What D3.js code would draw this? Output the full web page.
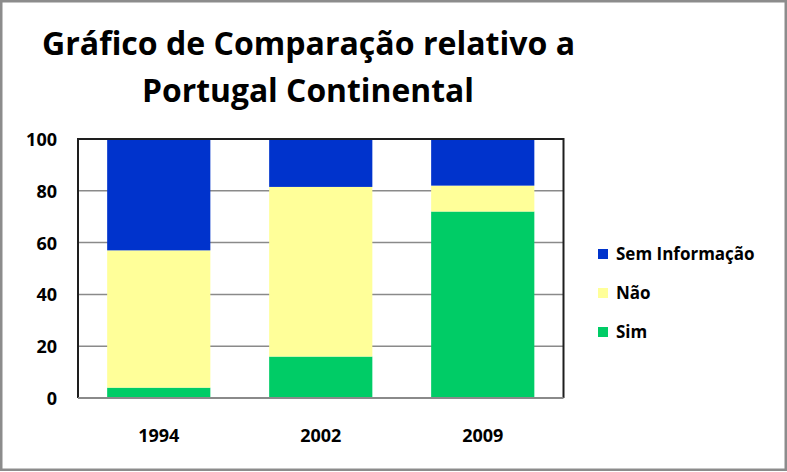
<!DOCTYPE html>
<html>
<head>
<meta charset="utf-8">
<script src="https://cdn.jsdelivr.net/npm/d3@7"></script>
<style>
  html, body { margin: 0; padding: 0; background: #fff; }
  svg { display: block; }
</style>
</head>
<body>
<div id="grafico"></div>
<script>
// Dados
const anos = ["1994", "2002", "2009"];
const sim = [4, 16, 72];
const nao = [53, 65.5, 10];
const semInformacao = [43, 18.5, 18];
const series = ["Sim", "Não", "Sem Informação"];
const valoresEixoY = [0, 20, 40, 60, 80, 100];
const tituloLinhas = ["Gráfico de Comparação relativo a", "Portugal Continental"];

const cores = { "Sim": "#00CC66", "Não": "#FFFF99", "Sem Informação": "#0033CC" };

const largura = 787;
const altura = 472;
const margem = { top: 139, right: 223.5, bottom: 73, left: 78 };
const fonte = "'Open Sans', 'DejaVu Sans', sans-serif";

const dados = anos.map((ano, i) => ({
    ano: ano,
    "Sim": sim[i],
    "Não": nao[i],
    "Sem Informação": semInformacao[i]
}));

const svg = d3.select("#grafico").append("svg")
    .attr("width", largura)
    .attr("height", altura)
    .style("font-family", fonte);

// Moldura exterior
svg.append("rect")
    .attr("x", 1.25)
    .attr("y", 1.25)
    .attr("width", largura - 2.5)
    .attr("height", altura - 3.5)
    .attr("fill", "#fff")
    .attr("stroke", "#8c8c8c")
    .attr("stroke-width", 2.5);

// Escalas
const escalaX = d3.scaleBand()
    .domain(anos)
    .range([margem.left, largura - margem.right])
    .paddingInner(0.363)
    .paddingOuter(0.18);

const escalaY = d3.scaleLinear()
    .domain([0, 100])
    .range([altura - margem.bottom - 1, margem.top]);

// Linhas de grelha
svg.append("g")
    .selectAll("line")
    .data(valoresEixoY.filter(v => v > 0 && v < 100))
    .join("line")
    .attr("x1", margem.left)
    .attr("x2", largura - margem.right)
    .attr("y1", d => escalaY(d))
    .attr("y2", d => escalaY(d))
    .attr("stroke", "#8a8a8a")
    .attr("stroke-width", 1.5);

// Barras empilhadas
const empilhado = d3.stack().keys(series)(dados);

svg.append("g")
    .selectAll("g")
    .data(empilhado)
    .join("g")
    .attr("fill", d => cores[d.key])
    .selectAll("rect")
    .data(d => d)
    .join("rect")
    .attr("x", d => escalaX(d.data.ano))
    .attr("y", d => escalaY(d[1]))
    .attr("width", escalaX.bandwidth())
    .attr("height", d => escalaY(d[0]) - escalaY(d[1]));

// Contorno da área do gráfico
const x0 = margem.left, x1 = largura - margem.right;
const y0 = escalaY(0), y1 = escalaY(100);
svg.append("path")
    .attr("d", `M${x0},${y0} L${x0},${y1} L${x1},${y1} L${x1},${y0}`)
    .attr("fill", "none")
    .attr("stroke", "#1e1e1e")
    .attr("stroke-width", 2);

// Eixo X (linha inferior)
svg.append("line")
    .attr("x1", x0)
    .attr("x2", x1)
    .attr("y1", y0)
    .attr("y2", y0)
    .attr("stroke", "#8a8a8a")
    .attr("stroke-width", 2);

// Rótulos do eixo Y
svg.append("g")
    .selectAll("text")
    .data(valoresEixoY)
    .join("text")
    .attr("x", 57)
    .attr("y", d => escalaY(d) + 7)
    .attr("text-anchor", "end")
    .style("font-size", "18px")
    .style("font-weight", "bold")
    .attr("fill", "#000")
    .text(d => d);

// Rótulos do eixo X
svg.append("g")
    .selectAll("text")
    .data(anos)
    .join("text")
    .attr("x", d => escalaX(d) + escalaX.bandwidth() / 2)
    .attr("y", 442)
    .attr("text-anchor", "middle")
    .style("font-size", "18px")
    .style("font-weight", "bold")
    .attr("fill", "#000")
    .text(d => d);

// Legenda
const legenda = svg.append("g")
    .selectAll("g")
    .data(series.slice().reverse())
    .join("g")
    .attr("transform", (d, i) => `translate(598,${249 + i * 39})`);

legenda.append("rect")
    .attr("width", 10)
    .attr("height", 10)
    .attr("fill", d => cores[d]);

legenda.append("text")
    .attr("x", 18)
    .attr("y", 11)
    .style("font-size", "17px")
    .style("font-weight", "bold")
    .attr("fill", "#000")
    .text(d => d);

// Título
const titulo = svg.append("g");
titulo.append("text")
    .attr("x", 42)
    .attr("y", 55)
    .attr("textLength", 533)
    .attr("lengthAdjust", "spacingAndGlyphs")
    .style("font-size", "32px")
    .style("font-weight", "bold")
    .text(tituloLinhas[0]);
titulo.append("text")
    .attr("x", 142)
    .attr("y", 102)
    .attr("textLength", 332)
    .attr("lengthAdjust", "spacingAndGlyphs")
    .style("font-size", "32px")
    .style("font-weight", "bold")
    .text(tituloLinhas[1]);
</script>
</body>
</html>
